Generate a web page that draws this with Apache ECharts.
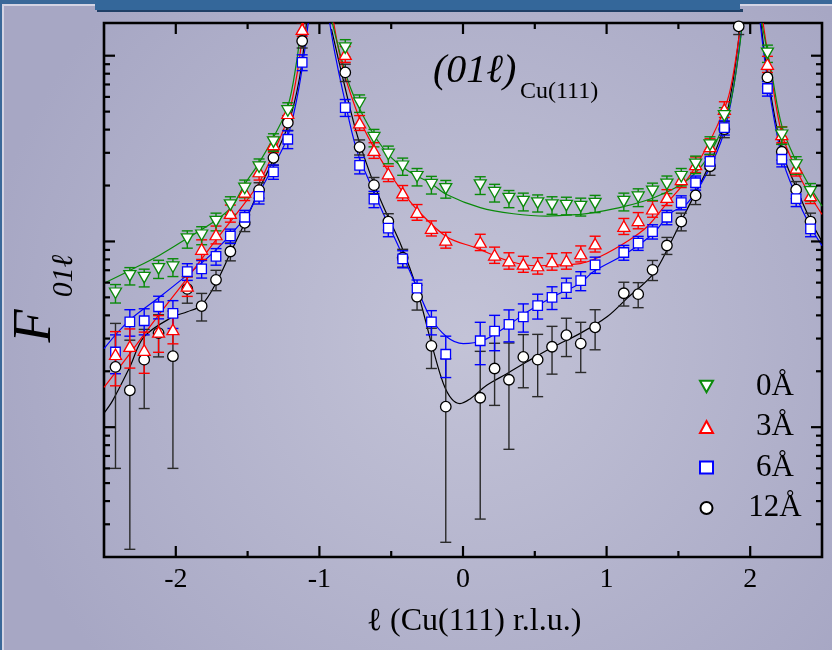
<!DOCTYPE html>
<html><head><meta charset="utf-8">
<script src="https://cdn.jsdelivr.net/npm/echarts@6/dist/echarts.min.js"></script>
<style>html,body{margin:0;padding:0;background:#aaaac6}#c{width:832px;height:650px}</style>
</head><body><div id="c"></div><script>
// ---- data ----
const xMin = -2.5, xMax = 2.5, yMin = 0.2, yMax = 150;
const xTicksMajor = [-2, -1, 0, 1, 2];
const xTicksMinor = [-1.5, -0.5, 0.5, 1.5];
const yTicksMajor = [1, 10, 100];
const yTicksMinor = [0.3,0.4,0.5,0.6,0.7,0.8,0.9,2,3,4,5,6,7,8,9,20,30,40,50,60,70,80,90];
const seriesNames = ['0Å', '3Å', '6Å', '12Å'];

const lGrid = [-2.42,-2.32,-2.22,-2.12,-2.02,-1.92,-1.82,-1.72,-1.62,-1.52,-1.42,-1.32,-1.22,-1.12,
  -0.82,-0.72,-0.62,-0.52,-0.42,-0.32,-0.22,-0.12,
  0.12,0.22,0.32,0.42,0.52,0.62,0.72,0.82,0.92,
  1.12,1.22,1.32,1.42,1.52,1.62,1.72,1.82,1.92,
  2.12,2.22,2.32,2.42];

const green = [5.26,6.53,6.39,7.12,7.27,10.3,10.8,12.8,15.7,19.3,25.1,34.3,50.4,null,
  110,55.5,36.2,29.4,25.4,22.3,20.2,19.2,
  20.1,18.3,17.0,16.4,16.1,15.7,15.6,15.4,16.0,
  16.4,17.3,18.6,20.3,22.3,26.0,33.0,47.4,null,
  103,37.3,25.8,18.5];
const greenErr = [0.6,0.7,0.7,0.8,0.8,1.1,1.2,1.4,1.7,2.1,2.7,3.7,5.4,null,
  12,6,3.9,3.2,2.7,2.4,2.2,2.1,
  2.2,2.0,1.8,1.8,1.7,1.7,1.7,1.7,1.7,
  1.8,1.9,2.0,2.2,2.4,2.8,3.6,5.1,null,
  11,4,2.8,2.0];

const red = [2.47,2.73,2.60,3.26,3.36,5.76,9.10,10.9,14.2,18.5,23.8,33.3,49.0,139,
  102,43.6,31.0,23.2,18.3,14.4,11.8,10.2,
  9.93,8.47,7.89,7.57,7.42,7.80,7.89,8.61,9.72,
  12.1,13.0,15.0,17.3,21.6,26.0,32.5,51.5,null,
  90.2,37.7,24.9,17.7];
const redErr = [0.8,0.65,0.65,0.73,0.55,0.7,1.1,1.2,1.5,1.9,2.4,3.2,4.8,12,
  10,4,3,2.2,1.7,1.4,1.1,1.0,
  1.0,0.85,0.8,0.75,0.75,0.8,0.8,0.85,0.95,
  1.2,1.3,1.5,1.7,2.1,2.5,3.2,5,null,
  9,3.7,2.4,1.7];

const blue = [2.54,3.69,3.74,4.45,4.10,6.88,7.12,8.30,10.7,13.5,17.5,23.7,35.5,92.1,
  52.6,25.7,16.9,11.8,8.06,5.60,3.69,2.47,
  2.92,3.29,3.58,3.93,4.51,5.00,5.64,6.15,7.48,
  8.72,9.80,11.3,13.5,16.2,20.7,27.0,41.0,null,
  66.6,27.7,17.0,11.7];
const blueErr = [0.6,0.6,0.6,0.62,0.7,0.71,0.77,0.85,0.95,1.2,1.6,2.1,3.9,9,
  5.5,2.6,1.7,1.2,0.85,0.6,0.55,0.62,
  0.75,0.71,0.7,0.68,0.69,0.7,0.7,0.72,0.75,
  0.8,0.85,1.0,1.2,1.4,1.8,2.4,3.6,null,
  6,2.5,1.6,1.1];

const black = [2.11,1.58,2.31,3.21,2.41,5.55,4.49,6.21,8.83,12.6,18.9,28.2,43.6,120,
  81.3,32.2,20.1,12.8,8.17,5.04,2.74,1.29,
  1.44,2.07,1.80,2.39,2.31,2.71,3.13,2.82,3.45,
  5.26,5.20,7.03,9.51,12.8,17.7,25.4,40.2,144,
  76.4,30.4,19.0,12.8];
const blackErr = [1.51,1.36,1.05,0.82,1.81,0.9,0.76,0.78,0.97,1.3,1.8,2.5,4,10,
  8.7,3,2,1.3,0.9,0.77,0.67,1.05,
  1.12,0.76,1.04,0.76,0.85,0.78,0.73,0.85,0.84,
  0.77,0.8,0.87,1.0,1.4,1.9,2.7,4,14,
  8,3,2,1.4];

// fit curves (null separates segments)
const fitGreenX = [-2.50,-2.32,-2.11,-1.92,-1.72,-1.61,-1.52,-1.42,-1.32,-1.22,-1.16,-1.125,null,
  -0.916,-0.858,-0.789,-0.696,-0.602,-0.509,-0.417,-0.323,-0.230,-0.114,0.12,0.351,0.584,0.816,0.909,1.119,1.328,1.537,1.677,1.793,1.863,1.921,1.945,null,
  2.08,2.15,2.22,2.32,2.42,2.50];
const fitGreenY = [5.96,6.98,8.46,10.4,13.0,15.4,20.3,26.5,36.3,53.2,91.6,150,null,
  157,104,68.9,47.5,35.6,28.8,25.0,22.5,20.7,17.9,15.2,14.1,13.7,14.0,14.3,15.4,17.2,20.7,26.4,38.5,55.7,104,150,null,
  150,80,42,27,19.5,15.5];
const fitRedX = [-2.50,-2.32,-2.12,-1.92,-1.72,-1.52,-1.42,-1.32,-1.22,-1.15,-1.11,null,
  -0.905,-0.835,-0.719,-0.626,-0.521,-0.416,-0.312,-0.114,0.095,0.328,0.514,0.700,0.816,0.956,1.142,1.282,1.421,1.561,1.677,1.770,1.851,1.910,1.933,null,
  2.09,2.15,2.22,2.32,2.42,2.50];
const fitRedY = [1.64,2.49,4.01,6.35,10.2,16.1,20.7,30.0,46.4,84.6,150,null,
  158,84.6,45.5,32.6,23.9,18.3,14.6,10.6,9.2,7.8,7.4,7.5,7.6,8.3,10.0,12.0,16.1,21.6,30.1,41.9,61,108.5,150,null,
  150,75,38,24.5,17.5,14];
const fitBlueX = [-2.50,-2.32,-2.11,-1.92,-1.72,-1.51,-1.42,-1.32,-1.22,-1.14,-1.078,null,
  -0.928,-0.893,-0.835,-0.742,-0.649,-0.556,-0.428,-0.323,-0.230,-0.114,0.002,0.142,0.282,0.468,0.654,0.816,0.909,1.142,1.328,1.445,1.56,1.700,1.817,1.886,1.945,null,
  2.07,2.12,2.22,2.32,2.42,2.50];
const fitBlueY = [2.65,3.78,5.04,6.61,9.0,13.7,18.3,25.4,36.9,68.9,150,null,
  150,104,63.2,31.3,20.7,14.2,8.66,5.71,3.93,3.07,2.82,2.94,3.40,4.27,5.16,5.96,6.88,8.66,11.1,14.2,16.0,23.4,38.5,68.9,150,null,
  150,75,28.5,17.5,12,9.5];
const fitBlackX = [-2.50,-2.44,-2.32,-2.22,-2.02,-1.92,-1.82,-1.72,-1.62,-1.51,-1.42,-1.32,-1.22,-1.14,-1.09,null,
  -0.916,-0.835,-0.742,-0.649,-0.556,-0.428,-0.323,-0.207,-0.137,-0.079,-0.021,0.049,0.165,0.305,0.445,0.630,0.816,1.003,1.142,1.328,1.445,1.537,1.700,1.805,1.875,1.933,null,
  2.075,2.12,2.22,2.32,2.42,2.50];
const fitBlackY = [1.19,1.39,2.11,3.07,3.93,4.18,4.55,5.96,8.66,13.1,19.0,27.7,41.9,74.7,150,null,
  139,74.7,38.5,23.4,15.5,9.4,5.60,2.60,1.72,1.42,1.34,1.42,1.68,1.94,2.25,2.71,3.20,3.93,4.94,6.74,9.82,13.7,24.4,38.5,68.9,150,null,
  150,80,31,19.5,13,10];

// ---- build ----
const FONT = "'Liberation Serif','DejaVu Serif',serif";
const defs = [
  {name:'12Å', vals:black, err:blackErr, fx:fitBlackX, fy:fitBlackY, color:'#000000', ebColor:'#2a2a2a', symbol:'circle', size:10.5},
  {name:'6Å', vals:blue, err:blueErr, fx:fitBlueX, fy:fitBlueY, color:'#0000ff', ebColor:'#0000ff', symbol:'rect', size:9.5},
  {name:'3Å', vals:red, err:redErr, fx:fitRedX, fy:fitRedY, color:'#ff0000', ebColor:'#ff0000', symbol:'triangle', size:[12,10.5]},
  {name:'0Å', vals:green, err:greenErr, fx:fitGreenX, fy:fitGreenY, color:'#0a8a0a', ebColor:'#0a8a0a', symbol:'path://M0,0L12,0L6,10.5Z', size:[12,10.5]}
];
function segments(X, Y){
  const out=[]; let cur=[];
  X.forEach((x,i)=>{ if(x===null){ if(cur.length) out.push(cur); cur=[]; } else cur.push([x, Y[i]]); });
  if(cur.length) out.push(cur);
  return out;
}
const series = [];
defs.forEach(d => {
  segments(d.fx, d.fy).forEach(seg => series.push({
    type:'line', data:seg, showSymbol:false, symbol:'none', smooth:0.35, z:2,
    lineStyle:{color:d.color, width:1.2}, clip:true, silent:true
  }));
});
defs.forEach(d => {
  const eb=[]; d.vals.forEach((v,i)=>{ if(v!=null) eb.push([lGrid[i], v, d.err[i]]); });
  series.push({
    type:'custom', z:3, clip:true, silent:true, data:eb, encode:{x:0,y:1},
    renderItem:(params, api)=>{
      const x=api.value(0), y=api.value(1), e=api.value(2);
      const lo = api.coord([x, Math.max(y-e, yMin*0.3)]);
      const hi = api.coord([x, y+e]);
      const w=5.5, st={stroke:d.ebColor, lineWidth:1.4};
      return {type:'group', children:[
        {type:'line', shape:{x1:lo[0],y1:lo[1],x2:hi[0],y2:hi[1]}, style:st},
        {type:'line', shape:{x1:lo[0]-w,y1:lo[1],x2:lo[0]+w,y2:lo[1]}, style:st},
        {type:'line', shape:{x1:hi[0]-w,y1:hi[1],x2:hi[0]+w,y2:hi[1]}, style:st}
      ]};
    }
  });
});
defs.forEach(d => {
  const pts=[]; d.vals.forEach((v,i)=>{ if(v!=null) pts.push([lGrid[i], v]); });
  series.push({
    type:'scatter', name:d.name, data:pts, z:4, symbol:d.symbol, symbolSize:d.size, clip:true,
    itemStyle:{color:'#ffffff', borderColor:d.color, borderWidth:1.3, opacity:1}
  });
});
// ticks on all four sides
const tickData = [];
xTicksMajor.forEach(v=>tickData.push([v, 1, 0]));
xTicksMinor.forEach(v=>tickData.push([v, 1, 1]));
yTicksMajor.forEach(v=>tickData.push([0, v, 2]));
yTicksMinor.forEach(v=>tickData.push([0, v, 3]));
series.push({
  type:'custom', z:6, silent:true, data:tickData, encode:{x:0,y:1},
  renderItem:(params, api)=>{
    const t=api.value(2), cs=params.coordSys, st={stroke:'#000', lineWidth:2.2};
    if(t<2){
      const px = api.coord([api.value(0), 1])[0], len = t===0 ? 11 : 6;
      return {type:'group', children:[
        {type:'line', shape:{x1:px,y1:cs.y+cs.height,x2:px,y2:cs.y+cs.height-len}, style:st},
        {type:'line', shape:{x1:px,y1:cs.y,x2:px,y2:cs.y+len}, style:st}]};
    }
    const py = api.coord([0, api.value(1)])[1], len = t===2 ? 11 : 6;
    return {type:'group', children:[
      {type:'line', shape:{x1:cs.x,y1:py,x2:cs.x+len,y2:py}, style:st},
      {type:'line', shape:{x1:cs.x+cs.width,y1:py,x2:cs.x+cs.width-len,y2:py}, style:st}]};
  }
});

const chart = echarts.init(document.getElementById('c'), null, {renderer:'canvas'});
chart.setOption({
  animation:false,
  backgroundColor:{type:'radial', x:0.56, y:0.52, r:0.75,
    colorStops:[{offset:0,color:'#c3c3d7'},{offset:1,color:'#a7a7c4'}]},
  grid:{left:104, right:10, top:23, bottom:93, show:true, borderColor:'#000', borderWidth:2.6, backgroundColor:'transparent'},
  xAxis:{type:'value', min:xMin, max:xMax, interval:0.5,
    axisLine:{show:false}, axisTick:{show:false}, splitLine:{show:false},
    axisLabel:{margin:9, fontFamily:FONT, fontSize:28, color:'#000',
      formatter:v=> Math.abs(v-Math.round(v))<1e-6 ? String(Math.round(v)) : ''}},
  yAxis:{type:'log', logBase:10, min:yMin, max:yMax,
    axisLine:{show:false}, axisTick:{show:false}, splitLine:{show:false}, axisLabel:{show:false}},
  legend:{data:seriesNames, orient:'vertical', left:694, top:366, itemWidth:13, itemHeight:12, itemGap:9.5,
    formatter:'{t|{name}}',
    textStyle:{rich:{t:{fontFamily:FONT, fontSize:31, color:'#000', width:114, align:'center', lineHeight:32}}}},
  graphic:[
    {type:'rect', shape:{x:0,y:0,width:832,height:4}, style:{fill:'#3a6899'}, silent:true},
    {type:'rect', shape:{x:0,y:4,width:832,height:2}, style:{fill:'#d4d4e4'}, silent:true},
    {type:'rect', shape:{x:0,y:0,width:2,height:650}, style:{fill:'#3a6899'}, silent:true},
    {type:'rect', shape:{x:2,y:4,width:2,height:646}, style:{fill:'#d4d4e4'}, silent:true},
    {type:'rect', shape:{x:97,y:9,width:646,height:3}, style:{fill:'#1f3f66'}, silent:true},
    {type:'rect', shape:{x:95,y:0,width:645,height:10}, style:{fill:'#34679a'}, silent:true},
    {type:'text', x:433, y:71, style:{text:'(01ℓ)', font:"italic 40px 'Liberation Serif', 'DejaVu Serif', serif", fill:'#000', textAlign:'left', textVerticalAlign:'middle'}},
    {type:'text', x:520, y:92, style:{text:'Cu(111)', font:"24px 'Liberation Serif', 'DejaVu Serif', serif", fill:'#000', textAlign:'left', textVerticalAlign:'middle'}},
    {type:'text', x:474, y:622, style:{text:'ℓ (Cu(111) r.l.u.)', font:"32px 'Liberation Serif', 'DejaVu Serif', serif", fill:'#000', textAlign:'center', textVerticalAlign:'middle'}},
    {type:'text', x:36, y:326, rotation:Math.PI/2, style:{text:'F', font:"italic 54px 'Liberation Serif', 'DejaVu Serif', serif", fill:'#000', textAlign:'center', textVerticalAlign:'middle'}},
    {type:'text', x:64, y:276, rotation:Math.PI/2, style:{text:'01ℓ', font:"italic 30px 'Liberation Serif', 'DejaVu Serif', serif", fill:'#000', textAlign:'center', textVerticalAlign:'middle'}}
  ],
  series:series
});
</script></body></html>
